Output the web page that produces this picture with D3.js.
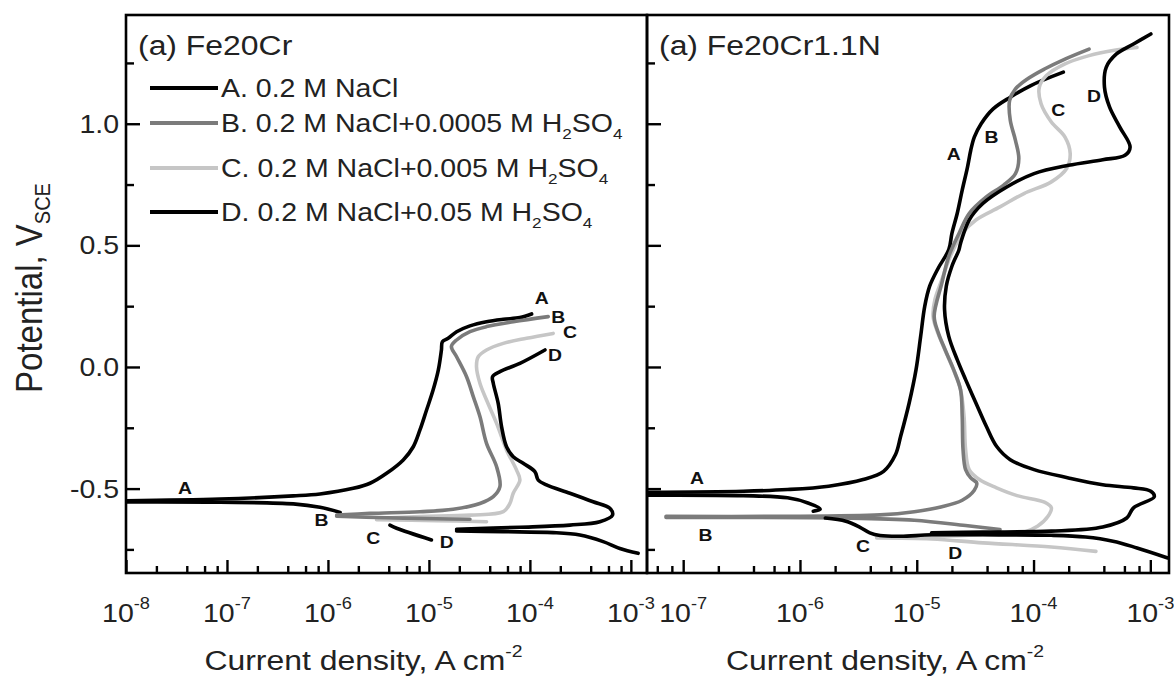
<!DOCTYPE html>
<html>
<head>
<meta charset="utf-8">
<script src="https://cdn.jsdelivr.net/npm/d3@7"></script>
<style>
body { margin: 0; background: #fff; }
text { font-family: "Liberation Sans", Arial, sans-serif; fill: #222; }
</style>
</head>
<body>
<script>
const W = 1174, H = 677
const SX = 1.14   // the source picture is stretched sideways, text too

// current density (A cm-2), potential (V SCE)
// ---- Fe20Cr ----
const feA_up = [[1.0e-8,-0.550],[8.53e-8,-0.543],[4.54e-7,-0.530],[8.34e-7,-0.522],[1.78e-6,-0.499],[2.61e-6,-0.478],
	[3.81e-6,-0.437],[5.57e-6,-0.382],[7.00e-6,-0.328],[8.15e-6,-0.259],[9.48e-6,-0.177],[1.10e-5,-0.095],[1.24e-5,-0.012],
	[1.33e-5,0.070],[1.36e-5,0.104],[1.55e-5,0.118],[1.88e-5,0.145],[2.55e-5,0.169],[3.72e-5,0.186],[5.45e-5,0.196],
	[7.96e-5,0.203],[1.04e-4,0.218]]
const feA_dn = [[1.0e-8,-0.555],[8.53e-8,-0.556],[4.54e-7,-0.563],[8.34e-7,-0.577],[1.32e-6,-0.598]]

const feB_up = [[1.22e-6,-0.609],[2.61e-6,-0.602],[8.15e-6,-0.595],[1.74e-5,-0.585],[3.20e-5,-0.561],[4.34e-5,-0.533],
	[5.05e-5,-0.492],[4.68e-5,-0.410],[3.72e-5,-0.314],[3.20e-5,-0.204],[2.75e-5,-0.122],[2.36e-5,-0.040],[1.88e-5,0.042],
	[1.67e-5,0.084],[1.88e-5,0.111],[2.55e-5,0.145],[3.72e-5,0.166],[6.84e-5,0.186],[1.52e-4,0.207]]
const feB_dn = [[1.22e-6,-0.614],[3.81e-6,-0.620],[1.19e-5,-0.624],[2.55e-5,-0.626]]

const feC_up = [[3.03e-6,-0.622],[8.15e-6,-0.615],[2.55e-5,-0.609],[5.45e-5,-0.595],[6.34e-5,-0.561],[6.84e-5,-0.519],
	[7.96e-5,-0.465],[7.38e-5,-0.424],[5.87e-5,-0.341],[4.68e-5,-0.232],[3.72e-5,-0.136],[3.20e-5,-0.067],[2.96e-5,0.001],
	[3.08e-5,0.042],[3.72e-5,0.070],[5.45e-5,0.097],[9.27e-5,0.118],[1.70e-4,0.138]]
const feC_dn = [[3.03e-6,-0.628],[1.19e-5,-0.632],[3.72e-5,-0.636]]

const feD_dn = [[1.18e-3,-0.766],[7.78e-4,-0.746],[5.32e-4,-0.718],[3.13e-4,-0.691],[1.70e-4,-0.681],[5.45e-5,-0.677],[1.88e-5,-0.674]]
const feD_up = [[1.88e-5,-0.667],[7.96e-5,-0.659],[2.49e-4,-0.650],[4.93e-4,-0.636],[6.58e-4,-0.609],[6.19e-4,-0.581],
	[4.23e-4,-0.554],[2.49e-4,-0.519],[1.46e-4,-0.485],[1.21e-4,-0.465],[1.12e-4,-0.430],[8.59e-5,-0.396],[6.84e-5,-0.369],
	[5.87e-5,-0.328],[5.24e-5,-0.245],[4.85e-5,-0.149],[4.34e-5,-0.067],[4.27e-5,-0.040],[5.05e-5,-0.019],[7.96e-5,0.015],
	[1.41e-4,0.070]]
const feD_tail = [[4.11e-6,-0.650],[4.79e-6,-0.663],[1.06e-5,-0.711]]

// ---- Fe20Cr1.1N ----
const fnA_up = [[4.9e-8,-0.515],[3.26e-7,-0.511],[7.83e-7,-0.504],[1.76e-6,-0.490],[3.47e-6,-0.463],[5.20e-6,-0.429],
	[6.58e-6,-0.360],[7.28e-6,-0.285],[8.61e-6,-0.148],[9.86e-6,-0.011],[1.08e-5,0.126],[1.17e-5,0.249],[1.29e-5,0.332],
	[1.53e-5,0.407],[1.88e-5,0.482],[2.00e-5,0.549],[2.22e-5,0.631],[2.45e-5,0.727],[2.72e-5,0.822],[2.90e-5,0.891],
	[3.11e-5,0.945],[3.56e-5,1.000],[4.51e-5,1.061],[6.32e-5,1.109],[9.48e-5,1.157],[1.80e-4,1.212]]
const fnA_dn = [[4.9e-8,-0.527],[3.26e-7,-0.529],[7.83e-7,-0.538],[1.17e-6,-0.559],[1.49e-6,-0.584],[1.30e-6,-0.593]]

const fnB_up = [[7.13e-8,-0.614],[6.40e-7,-0.614],[4.85e-6,-0.608],[9.53e-6,-0.595],[1.64e-5,-0.575],[2.45e-5,-0.548],
	[3.11e-5,-0.507],[3.26e-5,-0.477],[2.90e-5,-0.456],[2.62e-5,-0.422],[2.49e-5,-0.340],[2.45e-5,-0.203],[2.37e-5,-0.093],
	[2.07e-5,-0.011],[1.75e-5,0.071],[1.53e-5,0.140],[1.41e-5,0.208],[1.64e-5,0.345],[1.88e-5,0.455],[2.30e-5,0.549],
	[2.81e-5,0.631],[3.94e-5,0.699],[5.52e-5,0.747],[7.00e-5,0.795],[7.48e-5,0.857],[7.00e-5,0.932],[6.32e-5,1.014],
	[6.24e-5,1.096],[7.00e-5,1.143],[8.85e-5,1.184],[1.24e-4,1.225],[1.86e-4,1.266],[2.99e-4,1.307]]
const fnB_dn = [[7.13e-8,-0.619],[2.47e-6,-0.621],[9.53e-6,-0.630],[2.62e-5,-0.652],[5.16e-5,-0.668]]

const fnC_dn = [[4.54e-6,-0.703],[1.34e-5,-0.707],[3.68e-5,-0.723],[1.42e-4,-0.740],[3.42e-4,-0.758]]
const fnC_up = [[4.54e-6,-0.699],[1.34e-5,-0.696],[3.68e-5,-0.690],[8.28e-5,-0.679],[1.08e-4,-0.655],[1.33e-4,-0.614],
	[1.42e-4,-0.579],[1.24e-4,-0.556],[7.23e-5,-0.529],[4.82e-5,-0.497],[3.44e-5,-0.463],[2.81e-5,-0.422],[2.62e-5,-0.340],
	[2.54e-5,-0.203],[2.37e-5,-0.093],[2.03e-5,-0.004],[1.69e-5,0.085],[1.48e-5,0.153],[1.38e-5,0.208],[1.43e-5,0.277],
	[1.64e-5,0.359],[1.94e-5,0.455],[2.45e-5,0.549],[3.21e-5,0.604],[5.16e-5,0.658],[8.28e-5,0.713],[1.42e-4,0.761],
	[1.92e-4,0.816],[2.06e-4,0.877],[1.86e-4,0.945],[1.42e-4,1.007],[1.16e-4,1.082],[1.12e-4,1.150],[1.29e-4,1.198],
	[1.86e-4,1.246],[2.99e-4,1.280],[4.79e-4,1.301],[7.69e-4,1.314]]

const fnD_dn = [[1.41e-3,-0.785],[7.69e-4,-0.744],[4.79e-4,-0.716],[2.79e-4,-0.699],[1.42e-4,-0.692],[3.68e-5,-0.690],
	[1.34e-5,-0.690],[7.28e-6,-0.696],[4.85e-6,-0.693],[3.96e-6,-0.682],[3.24e-6,-0.658],[2.47e-6,-0.634],[1.65e-6,-0.621]]
const fnD_up = [[1.34e-5,-0.682],[3.68e-5,-0.679],[1.42e-4,-0.675],[3.91e-4,-0.658],[6.28e-4,-0.621],[7.18e-4,-0.579],
	[1.08e-3,-0.534],[1.01e-3,-0.511],[7.18e-4,-0.497],[3.91e-4,-0.484],[1.99e-4,-0.456],[1.01e-4,-0.422],[6.32e-5,-0.381],
	[4.82e-5,-0.326],[3.94e-5,-0.244],[3.21e-5,-0.148],[2.62e-5,-0.052],[2.22e-5,0.030],[1.88e-5,0.126],[1.73e-5,0.236],
	[1.79e-5,0.332],[2.00e-5,0.414],[2.30e-5,0.482],[2.37e-5,0.508],[2.81e-5,0.604],[3.68e-5,0.672],[5.90e-5,0.740],
	[1.01e-4,0.795],[1.99e-4,0.829],[3.91e-4,0.852],[6.07e-4,0.870],[6.71e-4,0.904],[5.48e-4,0.986],[4.48e-4,1.068],
	[4.05e-4,1.150],[4.19e-4,1.232],[5.13e-4,1.287],[7.18e-4,1.328],[1.01e-3,1.369]]

// curve letters, [current, potential]
const feLetters = [['A',3.84e-8,-0.499],['A',1.31e-4,0.282],['B',1.91e-4,0.207],['C',2.49e-4,0.145],['D',1.77e-4,0.049],
	['B',8.65e-7,-0.629],['C',2.81e-6,-0.704],['D',1.50e-5,-0.718]]
const fnLetters = [['A',1.31e-7,-0.456],['A',2.07e-5,0.877],['B',4.36e-5,0.945],['C',1.63e-4,1.055],['D',3.30e-4,1.116],
	['B',1.55e-7,-0.689],['C',3.47e-6,-0.737],['D',2.14e-5,-0.764]]

const legendKeys = ['A', 'B', 'C', 'D']
const legendText = ['A. 0.2 M NaCl', 'B. 0.2 M NaCl+0.0005 M H', 'C. 0.2 M NaCl+0.005 M H', 'D. 0.2 M NaCl+0.05 M H']
const yMajor = [-0.5, 0, 0.5, 1.0]
const yMinor = [-0.75, -0.25, 0.25, 0.75, 1.25]
const yLabels = ['-0.5', '0.0', '0.5', '1.0']

const colors = {A: '#000', B: '#7b7b7b', C: '#c6c6c6', D: '#000'}

const svg = d3.select('body').append('svg').attr('width', W).attr('height', H)

const yTop = 15, yBot = 573
const y = d3.scaleLinear().domain([-0.847, 1.447]).range([yBot, yTop])

function txt(g, x, yy, size, anchor) {
	return g.append('text')
		.attr('transform', `translate(${x},${yy}) scale(${SX},1)`)
		.attr('font-size', size)
		.attr('text-anchor', anchor)
}

let panels = [
	{name: 'Fe20Cr', x0: 126, x1: 647, dom: [1e-8, 1.445e-3], exps: [-8, -7, -6, -5, -4, -3], yLab: true,
		curves: [['A', feA_dn], ['A', feA_up], ['B', feB_dn], ['B', feB_up], ['C', feC_dn], ['C', feC_up],
			['D', feD_dn], ['D', feD_up], ['D', feD_tail]],
		letters: feLetters},
	{name: 'Fe20Cr1.1N', x0: 647, x1: 1169, dom: [4.9e-8, 1.445e-3], exps: [-7, -6, -5, -4, -3], yLab: false,
		curves: [['A', fnA_dn], ['A', fnA_up], ['B', fnB_dn], ['B', fnB_up], ['C', fnC_dn], ['C', fnC_up],
			['D', fnD_dn], ['D', fnD_up]],
		letters: fnLetters}
]

panels.forEach(function(p, pi) {
	let x = d3.scaleLog().domain(p.dom).range([p.x0, p.x1])
	let g = svg.append('g')

	let clipId = 'clip' + pi
	svg.append('clipPath').attr('id', clipId).append('rect')
		.attr('x', p.x0).attr('y', yTop).attr('width', p.x1 - p.x0).attr('height', yBot - yTop)

	// curves
	let line = d3.line().x(d => x(d[0])).y(d => y(d[1])).curve(d3.curveCatmullRom.alpha(0.5))
	let cg = g.append('g').attr('clip-path', `url(#${clipId})`)
	let order = ['A', 'C', 'B', 'D']
	order.forEach(function(k) {
		p.curves.filter(c => c[0] == k).forEach(function(c) {
			cg.append('path').attr('d', line(c[1]))
				.attr('fill', 'none').attr('stroke', colors[k])
				.attr('stroke-width', 3.6).attr('stroke-linejoin', 'round').attr('stroke-linecap', 'round')
		})
	})

	// letters on curves
	p.letters.forEach(function(l) {
		txt(g, x(l[1]), y(l[2]) + 6, 17, 'middle').attr('font-weight', 'bold').style('fill', '#111').text(l[0])
	})

	// ticks, pointing inward
	let majors = p.exps.map(e => Math.pow(10, e))
	let minors = []
	for (let e = -9; e <= -3; e++) {
		[2, 4, 6, 8].forEach(m => { let v = m * Math.pow(10, e); if (v > p.dom[0] && v < p.dom[1]) minors.push(v) })
	}
	let ax = g.append('g').attr('transform', `translate(0,${yBot})`)
	ax.call(d3.axisBottom(x).tickValues(majors).tickSize(-13).tickFormat(''))
	ax.append('g').call(d3.axisBottom(x).tickValues(minors).tickSize(-7).tickFormat(''))
	ax.selectAll('.domain').remove()
	ax.selectAll('line').attr('stroke', '#000').attr('stroke-width', 2.4)

	let ay = g.append('g').attr('transform', `translate(${p.x0},0)`)
	ay.call(d3.axisLeft(y).tickValues(yMajor).tickSize(-14).tickFormat(''))
	ay.append('g').call(d3.axisLeft(y).tickValues(yMinor).tickSize(-8).tickFormat(''))
	ay.selectAll('.domain').remove()
	ay.selectAll('line').attr('stroke', '#000').attr('stroke-width', 2.4)

	// frame
	g.append('rect').attr('x', p.x0).attr('y', yTop).attr('width', p.x1 - p.x0).attr('height', yBot - yTop)
		.attr('fill', 'none').attr('stroke', '#000').attr('stroke-width', 2.6)

	// x tick labels
	p.exps.forEach(function(e) {
		let t = txt(g, x(Math.pow(10, e)), 622, 25, 'middle')
		t.append('tspan').text('10')
		t.append('tspan').attr('font-size', 16).attr('dy', -13).text(String(e))
	})

	// x title
	let xt = txt(g, (p.x0 + p.x1) / 2 - 23, 670, 28, 'middle')
	xt.append('tspan').text('Current density, A cm')
	xt.append('tspan').attr('font-size', 17).attr('dy', -13).text('-2')

	// panel title
	txt(g, p.x0 + 12, 55, 28, 'start').text('(a) ' + p.name)

	if (p.yLab) {
		yMajor.forEach(function(v, i) {
			txt(g, 119, y(v) + 9, 25, 'end').text(yLabels[i])
		})
	}
})

// y title
let yt = svg.append('text')
	.attr('transform', `translate(42,288) scale(${SX},1) rotate(-90)`)
	.attr('font-size', 33).attr('text-anchor', 'middle')
yt.append('tspan').text('Potential, V')
yt.append('tspan').attr('font-size', 20).attr('dy', 7).text('SCE')

// legend
const legendY = [88, 123, 168, 212]
let lg = svg.append('g')
legendKeys.forEach(function(k, i) {
	lg.append('line').attr('x1', 150).attr('x2', 218).attr('y1', legendY[i]).attr('y2', legendY[i])
		.attr('stroke', colors[k]).attr('stroke-width', 3.8)
	let t = txt(lg, 221, legendY[i] + 9, 25, 'start')
	t.append('tspan').text(legendText[i])
	if (i > 0) {
		t.append('tspan').attr('font-size', 15).attr('dy', 7).text('2')
		t.append('tspan').attr('font-size', 25).attr('dy', -7).text('SO')
		t.append('tspan').attr('font-size', 15).attr('dy', 7).text('4')
	}
})
</script>
</body>
</html>
